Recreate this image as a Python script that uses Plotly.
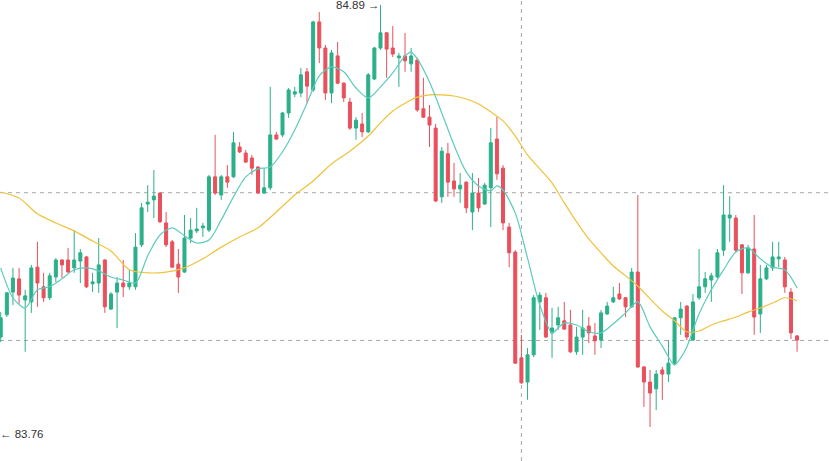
import plotly.graph_objects as go

# candle index (x position = trading period)
idx = list(range(131))

opens = [84.011,84.070,84.130,84.165,84.109,84.104,84.196,84.144,84.115,84.170,
         84.215,84.215,84.194,84.212,84.223,84.152,84.154,84.215,84.085,84.130,
         84.154,84.144,84.144,84.255,84.363,84.374,84.392,84.313,84.263,84.204,
         84.183,84.273,84.292,84.300,84.294,84.435,84.387,84.435,84.435,84.514,
         84.498,84.485,84.461,84.392,84.406,84.546,84.546,84.604,84.654,84.657,
         84.713,84.665,84.845,84.776,84.657,84.755,84.683,84.633,84.564,84.575,
         84.554,84.694,84.776,84.816,84.776,84.750,84.755,84.734,84.744,84.615,
         84.593,84.564,84.382,84.496,84.424,84.403,84.421,84.342,84.392,84.363,
         84.406,84.535,84.458,84.302,84.236,83.956,83.892,83.964,84.104,84.115,
         84.022,84.043,84.054,84.043,83.972,84.011,84.040,84.014,84.003,84.072,
         84.104,84.125,84.115,84.091,84.183,83.932,83.892,83.874,83.924,83.913,
         83.942,84.062,84.093,84.003,84.115,84.144,84.162,84.170,84.241,84.326,
         84.326,84.255,84.181,84.244,84.072,84.165,84.194,84.218,84.215,84.130,
         84.014]
highs = [84.077,84.130,84.194,84.194,84.136,84.202,84.263,84.181,84.181,84.220,
         84.217,84.247,84.294,84.244,84.226,84.181,84.273,84.217,84.130,84.170,
         84.215,84.189,84.286,84.366,84.413,84.453,84.394,84.342,84.268,84.244,
         84.334,84.326,84.353,84.313,84.440,84.546,84.440,84.466,84.554,84.527,
         84.506,84.493,84.463,84.458,84.673,84.554,84.607,84.670,84.673,84.723,
         84.723,84.848,84.871,84.784,84.771,84.792,84.685,84.644,84.593,84.604,
         84.710,84.779,84.890,84.818,84.834,84.763,84.816,84.776,84.750,84.697,
         84.625,84.575,84.514,84.525,84.472,84.445,84.423,84.445,84.432,84.419,
         84.564,84.593,84.466,84.313,84.241,84.017,83.982,84.122,84.130,84.128,
         84.088,84.091,84.104,84.083,84.038,84.083,84.064,84.048,84.083,84.104,
         84.144,84.154,84.117,84.194,84.387,83.934,83.924,83.924,83.932,84.003,
         84.062,84.104,84.095,84.125,84.244,84.183,84.181,84.244,84.413,84.384,
         84.334,84.257,84.255,84.334,84.202,84.202,84.263,84.263,84.223,84.141,
         84.016]
lows = [83.998,84.064,84.096,84.099,83.972,84.075,84.091,84.104,84.109,84.157,
        84.167,84.181,84.181,84.154,84.141,84.130,84.128,84.075,84.083,84.035,
        84.117,84.136,84.136,84.249,84.342,84.326,84.313,84.249,84.194,84.128,
        84.181,84.260,84.286,84.276,84.289,84.387,84.374,84.406,84.432,84.498,
        84.472,84.440,84.390,84.390,84.400,84.533,84.540,84.591,84.646,84.646,
        84.630,84.660,84.736,84.638,84.630,84.681,84.633,84.559,84.533,84.540,
        84.551,84.691,84.771,84.697,84.752,84.673,84.713,84.713,84.607,84.591,
        84.514,84.368,84.366,84.382,84.382,84.366,84.339,84.294,84.342,84.361,
        84.302,84.427,84.294,84.196,83.940,83.887,83.845,83.958,84.030,84.009,
        83.956,84.030,84.030,83.969,83.964,83.964,83.995,83.964,83.982,84.070,
        84.101,84.109,84.064,84.088,83.929,83.826,83.773,83.818,83.845,83.892,
        83.937,84.017,84.003,84.001,84.109,84.128,84.104,84.167,84.226,84.263,
        84.236,84.125,84.178,84.017,84.022,84.162,84.186,84.196,84.128,84.006,
        83.972]
closes = [84.062,84.128,84.167,84.122,84.120,84.194,84.154,84.115,84.173,84.215,
          84.202,84.183,84.215,84.234,84.144,84.157,84.202,84.091,84.125,84.154,
          84.144,84.154,84.249,84.353,84.368,84.384,84.316,84.255,84.196,84.170,
          84.273,84.294,84.297,84.305,84.435,84.392,84.435,84.421,84.525,84.501,
          84.474,84.458,84.392,84.406,84.546,84.535,84.604,84.665,84.660,84.705,
          84.675,84.845,84.776,84.657,84.763,84.683,84.644,84.564,84.585,84.554,
          84.705,84.776,84.816,84.773,84.760,84.755,84.742,84.755,84.612,84.593,
          84.572,84.371,84.503,84.421,84.403,84.413,84.353,84.392,84.353,84.413,
          84.525,84.443,84.313,84.234,83.942,83.890,83.964,84.115,84.122,84.011,
          84.035,84.062,84.032,83.972,84.011,84.035,84.022,84.001,84.075,84.093,
          84.115,84.112,84.091,84.183,83.932,83.892,83.863,83.913,83.913,83.942,
          84.062,84.085,84.011,84.104,84.144,84.165,84.173,84.234,84.334,84.334,
          84.241,84.181,84.247,84.064,84.165,84.194,84.223,84.223,84.144,84.022,
          84.003]

# slow moving average (yellow)
ma_slow_x = [0,3,6,9,12,15,18,21,24,27,30,33,36,39,42,45,48,51,54,57,60,62,64,66,68,
             70,72,74,76,78,80,82,84,86,88,90,92,94,96,98,100,102,104,106,108,110,
             112,114,116,118,120,122,124,126,128,130]
ma_slow = [84.395,84.379,84.337,84.313,84.292,84.265,84.239,84.189,84.181,84.183,
           84.194,84.218,84.249,84.276,84.300,84.342,84.387,84.424,84.469,84.503,
           84.543,84.578,84.609,84.630,84.646,84.652,84.652,84.649,84.641,84.628,
           84.607,84.583,84.543,84.493,84.456,84.419,84.366,84.316,84.271,84.234,
           84.199,84.173,84.146,84.112,84.080,84.054,84.025,84.027,84.043,84.054,
           84.064,84.077,84.088,84.101,84.115,84.107]

# fast moving average (teal)
ma_fast_x = [0,2,4,6,8,10,12,14,16,18,20,22,24,26,28,30,32,34,36,38,40,42,44,46,48,
             50,52,54,56,58,60,62,64,66,67,68,70,72,74,76,78,80,81,82,84,86,88,90,
             91,92,94,96,98,100,102,104,106,108,110,111,112,114,116,118,120,122,124,
             126,128,130]
ma_fast = [84.194,84.115,84.088,84.136,84.144,84.165,84.189,84.194,84.186,84.170,
           84.162,84.154,84.226,84.281,84.300,84.279,84.260,84.268,84.321,84.382,
           84.435,84.456,84.461,84.501,84.559,84.630,84.702,84.726,84.713,84.670,
           84.644,84.673,84.710,84.755,84.765,84.747,84.686,84.604,84.519,84.448,
           84.411,84.398,84.411,84.400,84.339,84.220,84.096,84.022,84.035,84.048,
           84.043,84.025,84.022,84.046,84.075,84.104,84.038,83.987,83.937,83.956,
           83.985,84.072,84.136,84.189,84.236,84.247,84.218,84.196,84.189,84.141]

price_lines = [84.393, 84.002]
cursor_idx = 85
max_label = "84.89 →"
min_label = "← 83.76"

UP = "#2bb089"
DOWN = "#e8505c"

fig = go.Figure()
fig.add_trace(go.Candlestick(
    x=idx, open=opens, high=highs, low=lows, close=closes,
    increasing=dict(line=dict(color=UP, width=1), fillcolor=UP),
    decreasing=dict(line=dict(color=DOWN, width=1), fillcolor=DOWN),
    whiskerwidth=0, showlegend=False, hoverinfo="skip",
))
fig.add_trace(go.Scatter(x=ma_slow_x, y=ma_slow, mode="lines",
                         line=dict(color="#efc23a", width=1.2, shape="spline", smoothing=0.8),
                         showlegend=False, hoverinfo="skip"))
fig.add_trace(go.Scatter(x=ma_fast_x, y=ma_fast, mode="lines",
                         line=dict(color="#5ccbbd", width=1.2, shape="spline", smoothing=0.8),
                         showlegend=False, hoverinfo="skip"))

for p in price_lines:
    fig.add_shape(type="line", xref="paper", x0=0, x1=1, yref="y", y0=p, y1=p,
                  line=dict(color="#a8a8a8", width=1, dash="4px,4px"), layer="below")
fig.add_shape(type="line", xref="x", x0=cursor_idx, x1=cursor_idx, yref="paper", y0=0, y1=1,
              line=dict(color="#a8a8a8", width=1, dash="4px,4px"), layer="below")

fig.add_annotation(x=62, y=max(highs), xref="x", yref="y", text=max_label,
                   showarrow=False, xanchor="right", yanchor="middle", xshift=0,
                   font=dict(family="Liberation Sans, Arial", size=11.5, color="#333333"))
fig.add_annotation(x=0, y=min(lows), xref="paper", yref="y", text=min_label,
                   showarrow=False, xanchor="left", yanchor="middle", xshift=-2, yshift=-7,
                   font=dict(family="Liberation Sans, Arial", size=11.5, color="#333333"))

fig.update_layout(
    width=829, height=461,
    margin=dict(l=0, r=0, t=0, b=0),
    paper_bgcolor="white", plot_bgcolor="white",
    xaxis=dict(range=[-0.114, 135.21], showgrid=False, zeroline=False,
               showticklabels=False, rangeslider=dict(visible=False), fixedrange=True),
    yaxis=dict(range=[83.683, 84.903], showgrid=False, zeroline=False,
               showticklabels=False, fixedrange=True),
)

fig.write_html("out.html", config={"displayModeBar": False},
               post_script="document.body.style.margin='0';document.body.style.overflow='hidden';")
